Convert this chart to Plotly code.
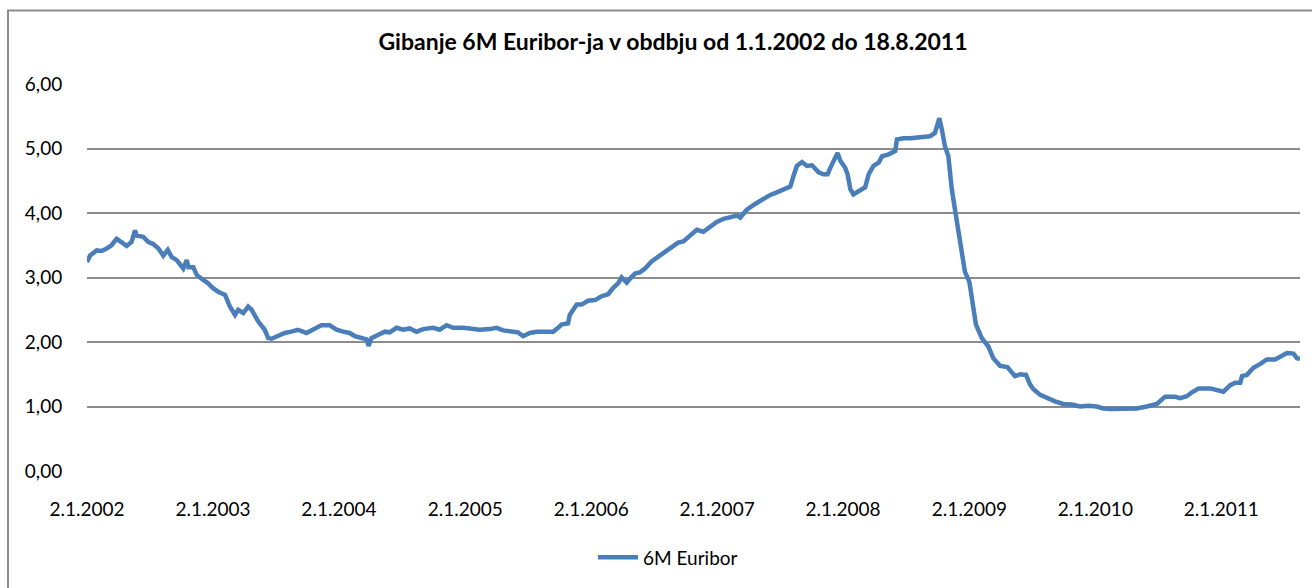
import plotly.graph_objects as go

# 6M Euribor fixings (%), 2.1.2002 - 18.8.2011
dates = [
    "2002-01-02", "2002-01-11", "2002-01-30", "2002-02-13", "2002-02-28", "2002-03-14",
    "2002-03-29", "2002-04-07", "2002-04-27", "2002-05-11", "2002-05-21", "2002-05-26",
    "2002-06-14", "2002-06-29", "2002-07-13", "2002-07-28", "2002-08-11", "2002-08-24",
    "2002-09-04", "2002-09-19", "2002-10-08", "2002-10-18", "2002-10-23", "2002-11-06",
    "2002-11-16", "2002-11-30", "2002-12-19", "2003-01-03", "2003-01-17", "2003-02-06",
    "2003-02-20", "2003-03-07", "2003-03-16", "2003-03-31", "2003-04-14", "2003-04-24",
    "2003-05-13", "2003-06-01", "2003-06-11", "2003-06-21", "2003-07-10", "2003-07-29",
    "2003-08-17", "2003-09-05", "2003-09-30", "2003-10-19", "2003-11-12", "2003-12-06",
    "2003-12-26", "2004-01-14", "2004-02-02", "2004-02-17", "2004-03-07", "2004-03-22",
    "2004-03-28", "2004-04-05", "2004-04-24", "2004-05-14", "2004-05-28", "2004-06-17",
    "2004-07-06", "2004-07-25", "2004-08-14", "2004-09-02", "2004-10-01", "2004-10-20",
    "2004-11-09", "2004-11-28", "2004-12-27", "2005-01-15", "2005-02-13", "2005-03-14",
    "2005-04-03", "2005-04-22", "2005-05-11", "2005-06-04", "2005-06-19", "2005-07-08",
    "2005-07-28", "2005-08-26", "2005-09-14", "2005-09-28", "2005-10-08", "2005-10-27",
    "2005-11-01", "2005-11-21", "2005-12-05", "2005-12-24", "2006-01-13", "2006-02-01",
    "2006-02-20", "2006-03-07", "2006-03-21", "2006-03-31", "2006-04-15", "2006-04-24",
    "2006-05-09", "2006-05-23", "2006-06-07", "2006-06-26", "2006-07-15", "2006-08-04",
    "2006-08-23", "2006-09-11", "2006-09-26", "2006-10-15", "2006-11-04", "2006-11-23",
    "2006-12-12", "2007-01-01", "2007-01-21", "2007-02-09", "2007-02-28", "2007-03-10",
    "2007-03-29", "2007-04-22", "2007-05-16", "2007-06-05", "2007-06-24", "2007-07-13",
    "2007-08-02", "2007-08-11", "2007-08-21", "2007-09-05", "2007-09-19", "2007-10-04",
    "2007-10-23", "2007-11-06", "2007-11-18", "2007-11-26", "2007-12-10", "2007-12-17",
    "2007-12-25", "2008-01-08", "2008-01-15", "2008-01-23", "2008-02-01", "2008-02-11",
    "2008-02-26", "2008-03-06", "2008-03-16", "2008-03-30", "2008-04-14", "2008-04-24",
    "2008-05-13", "2008-06-01", "2008-06-06", "2008-06-25", "2008-07-14", "2008-08-12",
    "2008-09-10", "2008-09-24", "2008-10-07", "2008-10-14", "2008-10-23", "2008-11-02",
    "2008-11-07", "2008-11-12", "2008-11-21", "2008-12-01", "2008-12-11", "2008-12-20",
    "2009-01-02", "2009-01-12", "2009-01-21", "2009-02-07", "2009-02-26", "2009-03-12",
    "2009-04-01", "2009-04-22", "2009-05-14", "2009-05-29", "2009-06-15", "2009-06-27",
    "2009-07-06", "2009-07-26", "2009-08-14", "2009-09-07", "2009-10-01", "2009-10-26",
    "2009-11-19", "2009-12-13", "2010-01-06", "2010-01-25", "2010-02-14", "2010-03-15",
    "2010-04-13", "2010-05-02", "2010-05-31", "2010-06-29", "2010-07-23", "2010-08-21",
    "2010-09-05", "2010-09-24", "2010-10-09", "2010-10-28", "2010-12-01", "2010-12-20",
    "2011-01-08", "2011-01-28", "2011-02-11", "2011-02-26", "2011-03-03", "2011-03-17",
    "2011-04-05", "2011-04-25", "2011-05-14", "2011-06-07", "2011-06-22", "2011-07-11",
    "2011-07-30", "2011-08-09", "2011-08-18",
]

euribor_6m = [
    3.24, 3.34, 3.42, 3.41, 3.45, 3.50,
    3.60, 3.57, 3.49, 3.55, 3.73, 3.65,
    3.63, 3.55, 3.52, 3.45, 3.34, 3.43,
    3.32, 3.27, 3.14, 3.27, 3.16, 3.16,
    3.04, 2.98, 2.91, 2.83, 2.78, 2.73,
    2.55, 2.42, 2.50, 2.45, 2.55, 2.50,
    2.32, 2.19, 2.06, 2.05, 2.09, 2.14,
    2.16, 2.19, 2.14, 2.19, 2.26, 2.26,
    2.19, 2.16, 2.14, 2.09, 2.06, 2.04,
    1.94, 2.06, 2.11, 2.16, 2.15, 2.22,
    2.19, 2.21, 2.16, 2.20, 2.22, 2.19,
    2.26, 2.22, 2.22, 2.21, 2.19, 2.20,
    2.22, 2.18, 2.16, 2.15, 2.09, 2.14,
    2.16, 2.17, 2.16, 2.22, 2.27, 2.29,
    2.42, 2.58, 2.58, 2.64, 2.65, 2.71,
    2.74, 2.84, 2.91, 3.00, 2.92, 2.98,
    3.06, 3.08, 3.14, 3.25, 3.32, 3.40,
    3.45, 3.54, 3.56, 3.64, 3.74, 3.71,
    3.79, 3.86, 3.91, 3.93, 3.96, 3.93,
    4.05, 4.14, 4.22, 4.28, 4.32, 4.37,
    4.41, 4.57, 4.73, 4.79, 4.73, 4.74,
    4.63, 4.60, 4.60, 4.70, 4.86, 4.93,
    4.81, 4.70, 4.60, 4.37, 4.29, 4.32,
    4.38, 4.40, 4.60, 4.73, 4.78, 4.88,
    4.91, 4.96, 5.14, 5.16, 5.16, 5.18,
    5.19, 5.24, 5.47, 5.30, 5.04, 4.88,
    4.57, 4.37, 4.06, 3.75, 3.45, 3.09,
    2.93, 2.63, 2.27, 2.06, 1.93, 1.75,
    1.63, 1.61, 1.47, 1.50, 1.49, 1.34,
    1.27, 1.18, 1.13, 1.08, 1.04, 1.03,
    1.00, 1.01, 1.00, 0.97, 0.96, 0.96,
    0.96, 0.97, 1.00, 1.04, 1.15, 1.15,
    1.13, 1.16, 1.22, 1.28, 1.28, 1.25,
    1.23, 1.33, 1.37, 1.37, 1.47, 1.49,
    1.60, 1.66, 1.73, 1.73, 1.78, 1.83,
    1.82, 1.75, 1.74,
]

tick_dates = [
    "2002-01-02", "2003-01-02", "2004-01-02", "2005-01-02", "2006-01-02",
    "2007-01-02", "2008-01-02", "2009-01-02", "2010-01-02", "2011-01-02",
]
tick_labels = [
    "2.1.2002", "2.1.2003", "2.1.2004", "2.1.2005", "2.1.2006",
    "2.1.2007", "2.1.2008", "2.1.2009", "2.1.2010", "2.1.2011",
]

W, H = 1312, 588
L, R, T, B = 87, 12, 84, 114
pw, ph = W - L - R, H - T - B


def px_x(x):
    return (x - L) / pw


def px_y(y):
    return (H - B - y) / ph


FONT = "Lato, 'Open Sans', sans-serif"
GRID = "#8c8c8c"

fig = go.Figure()
fig.add_trace(go.Scatter(
    x=dates, y=euribor_6m, mode="lines", name="6M Euribor",
    line=dict(color="#4a7ebb", width=4.5),
))

fig.update_layout(
    width=W, height=H,
    margin=dict(l=L, r=R, t=T, b=B),
    paper_bgcolor="white", plot_bgcolor="white",
    separators=",.",
    font=dict(family=FONT, size=19, color="#000000"),
    title=dict(
        text="<b>Gibanje 6M Euribor-ja v obdbju od 1.1.2002 do 18.8.2011</b>",
        xref="paper", x=px_x(673), xanchor="center",
        yref="container", y=1 - 42 / H, yanchor="middle",
        font=dict(family=FONT, size=23, color="#000000"),
    ),
    showlegend=True,
    legend=dict(
        orientation="h", xref="paper", x=px_x(668), xanchor="center",
        yref="paper", y=px_y(561), yanchor="middle",
        font=dict(family=FONT, size=19), itemwidth=40,
    ),
    xaxis=dict(
        type="date", range=["2002-01-02", "2011-08-18"],
        tickvals=tick_dates, ticktext=tick_labels,
        showgrid=False, zeroline=False, showline=False,
        ticks="outside", ticklen=21, tickcolor="rgba(0,0,0,0)",
    ),
    yaxis=dict(
        range=[0, 6], dtick=1, tick0=0, tickformat=".2f",
        showgrid=True, gridcolor=GRID, gridwidth=1.5,
        zeroline=False, showline=False,
        ticks="outside", ticklen=20, tickcolor="rgba(0,0,0,0)",
    ),
    shapes=[dict(
        type="rect", xref="paper", yref="paper",
        x0=px_x(8), x1=px_x(W + 20), y0=px_y(H + 20), y1=px_y(10),
        line=dict(color="#8c8c8c", width=2), fillcolor="rgba(0,0,0,0)",
        layer="below",
    )],
)

fig.write_html("out.html")
